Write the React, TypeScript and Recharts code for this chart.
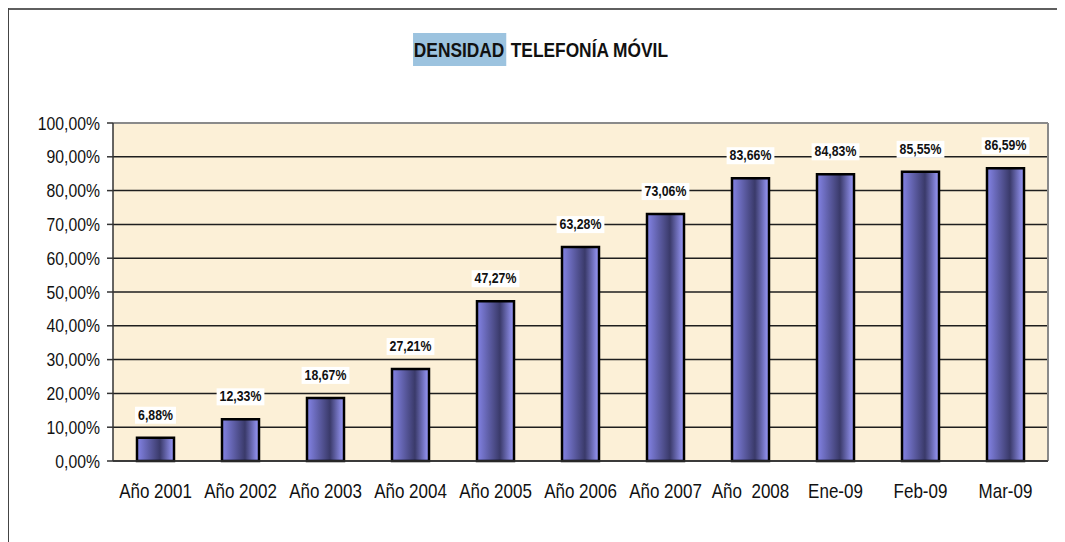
import { BarChart, Bar, XAxis, YAxis, CartesianGrid, ReferenceLine, LabelList } from 'recharts'

const categorias = ['Año 2001', 'Año 2002', 'Año 2003', 'Año 2004', 'Año 2005', 'Año 2006', 'Año 2007', 'Año \u00a02008', 'Ene-09', 'Feb-09', 'Mar-09']
const densidad = [6.88, 12.33, 18.67, 27.21, 47.27, 63.28, 73.06, 83.66, 84.83, 85.55, 86.59]
const ticksY = [0, 10, 20, 30, 40, 50, 60, 70, 80, 90, 100]
const limites = [0, 1, 2, 3, 4, 5, 6, 7, 8, 9, 10, 11]

const data = categorias.map((cat, i) => ({ cat, idx: i, valor: densidad[i] }))

// no hay Arial Narrow: se estrecha Liberation Sans a mano
const FUENTE = '"Liberation Sans", Arial, sans-serif'

const pct = (v: number) => v.toFixed(2).replace('.', ',') + '%'

function TickY(props: any) {
  const { x, y, payload } = props
  return (
    <text transform={`translate(${x},${y}) scale(0.83,1)`} textAnchor="end" dy="0.35em"
      fontFamily={FUENTE} fontSize={19} fill="#111">
      {pct(payload.value)}
    </text>
  )
}

function TickX(props: any) {
  const { x, y, payload } = props
  return (
    <text transform={`translate(${x},${y}) scale(0.85,1)`} textAnchor="middle" dy="0.71em"
      fontFamily={FUENTE} fontSize={20} fill="#111" style={{ whiteSpace: 'pre' }}>
      {payload.value}
    </text>
  )
}

function Etiqueta(props: any) {
  const { x, y, width, value } = props
  const texto = pct(Number(value))
  let em = 0
  for (const ch of texto) em += ch === ',' ? 0.278 : ch === '%' ? 0.889 : 0.556
  const w = em * 14 * 0.88
  const cx = x + width / 2
  const base = y - 18
  return (
    <g>
      <rect x={cx - w / 2 - 3} y={base - 13} width={w + 6} height={17} fill="#fff" />
      <text transform={`translate(${cx},${base}) scale(0.88,1)`} textAnchor="middle"
        fontFamily={FUENTE} fontWeight="bold" fontSize={14} fill="#111">
        {texto}
      </text>
    </g>
  )
}

export default function App() {
  return (
    <div style={{ position: 'relative', width: 1057, height: 534, background: '#fff' }}>
      <div style={{ position: 'absolute', left: 0, top: 0, width: 1057, height: 2, background: '#5f5f5f' }} />
      <div style={{ position: 'absolute', left: 0, top: 0, width: 1, height: 534, background: '#444' }} />
      <div
        style={{
          position: 'absolute', left: 4, top: 25, width: 1057, textAlign: 'center',
          fontFamily: FUENTE, fontWeight: 'bold', fontSize: 21, lineHeight: '33px', color: '#111',
          transform: 'scaleX(0.825)', transformOrigin: '528.5px 0', whiteSpace: 'pre',
        }}
      >
        <span style={{ display: 'inline-block', background: '#9cc3df', paddingLeft: 1, paddingRight: 2 }}>DENSIDAD</span>
        {' TELEFONÍA MÓVIL'}
      </div>
      <div style={{ position: 'absolute', left: 0, top: 0 }}>
        <BarChart width={1057} height={534} data={data} margin={{ top: 115, right: 17, bottom: 51, left: 10 }} barSize={37}>
          <defs>
            <linearGradient id="barra" x1="0" y1="0" x2="1" y2="0">
              <stop offset="0%" stopColor="#8484e6" />
              <stop offset="62%" stopColor="#3a3a6a" />
              <stop offset="100%" stopColor="#9c9cff" />
            </linearGradient>
          </defs>
          <CartesianGrid vertical={false} stroke="#1e1e1e" strokeWidth={1.5} fill="#fcf0d7" fillOpacity={1} />
          <XAxis
            dataKey="cat"
            axisLine={{ stroke: '#333', strokeWidth: 1.5 }}
            tickLine={false}
            tickSize={0}
            tickMargin={23}
            interval={0}
            tick={<TickX />}
          />
          <XAxis
            xAxisId="b"
            type="number"
            dataKey="idx"
            domain={[0, 11]}
            ticks={limites}
            height={0}
            axisLine={false}
            tick={false}
            tickLine={{ stroke: '#333', strokeWidth: 1.5 }}
            tickSize={7}
          />
          <YAxis
            width={95}
            domain={[0, 100]}
            ticks={ticksY}
            axisLine={{ stroke: '#333', strokeWidth: 1.5 }}
            tickLine={{ stroke: '#333', strokeWidth: 1.5 }}
            tickSize={6}
            tickMargin={7}
            tick={<TickY />}
          />
          <ReferenceLine y={100} stroke="#8a8a8a" strokeWidth={2} />
          <ReferenceLine x={11} xAxisId="b" stroke="#8a8a8a" strokeWidth={2} />
          <Bar dataKey="valor" fill="url(#barra)" stroke="#000" strokeWidth={2.5} isAnimationActive={false}>
            <LabelList dataKey="valor" content={Etiqueta} />
          </Bar>
        </BarChart>
      </div>
    </div>
  )
}
